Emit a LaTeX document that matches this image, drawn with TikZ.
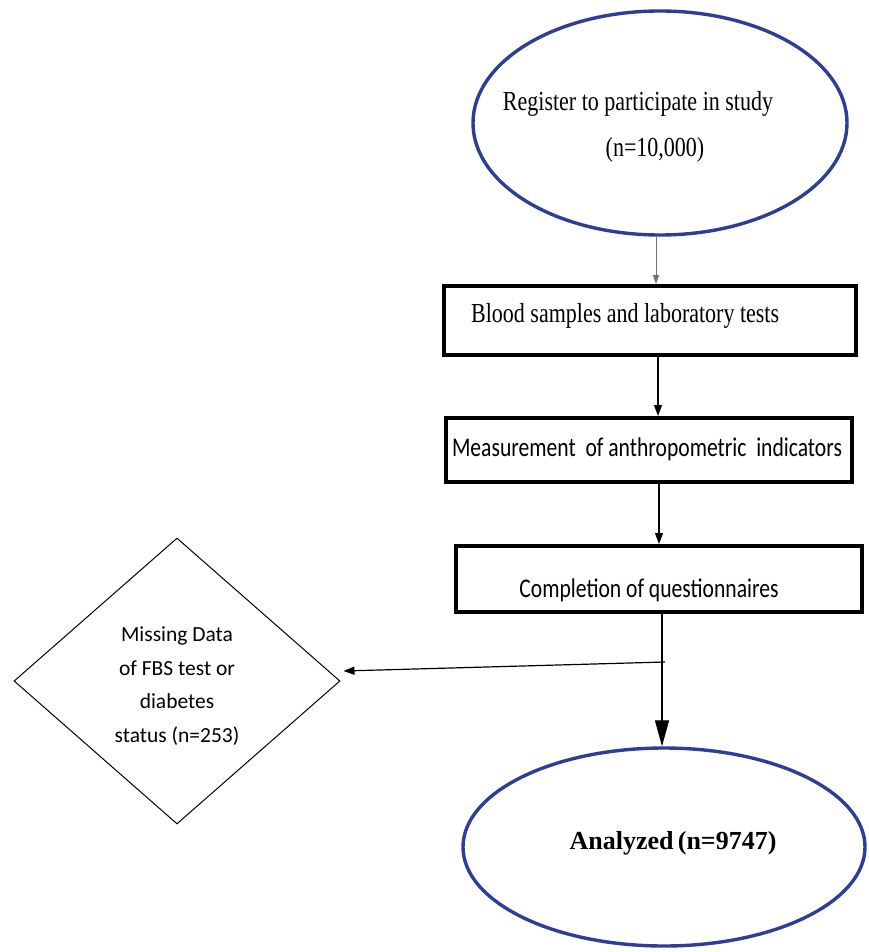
\documentclass[tikz,border=0pt]{standalone}
\usepackage{fontspec}
\setmainfont{Liberation Serif}
\newfontfamily\serifN[FakeStretch=0.8]{Liberation Serif}
\newfontfamily\sansN[FakeStretch=0.8]{Carlito}
\newfontfamily\sansR{Carlito}
\usetikzlibrary{shapes.geometric,arrows.meta}
\definecolor{ellblue}{RGB}{46,62,150}
\begin{document}
\begin{tikzpicture}[x=1pt,y=-1pt,
  ell/.style={draw=ellblue,line width=3.4pt,ellipse,inner sep=0pt},
  stepbox/.style={draw=black,line width=4pt,rectangle,inner sep=0pt},
  txt/.style={inner sep=0pt,text=black},
  serifbig/.style={font=\serifN\fontsize{27.5}{30}\selectfont},
  sansbig/.style={font=\sansN\fontsize{27}{30}\selectfont},
  conn/.style={line width=1.2pt,-{Triangle[length=11pt,width=8pt]}},
  thinconn/.style={draw=black!55,line width=0.8pt,-{Triangle[length=9pt,width=6pt]}},
  bigconn/.style={line width=1.2pt,-{Triangle[length=26pt,width=14pt]}}]
\useasboundingbox (0,0) rectangle (868,952);
\fill[white] (0,0) rectangle (868,952);

% top ellipse
\node[ell,minimum width=374pt,minimum height=224pt] (e1) at (660,123) {};
\node[txt,serifbig] (t1) at (638,104) {Register to participate in study};
\node[txt,serifbig] (t2) at (655,150) {(n=10,000)};

% boxes
\node[stepbox,minimum width=412pt,minimum height=69pt] (b1) at (650,320.5) {};
\node[txt,serifbig,anchor=west] (tb1) at (471,316) {Blood samples and laboratory tests};

\node[stepbox,minimum width=406pt,minimum height=64pt] (b2) at (649,450) {};
\node[txt,sansbig] (tb2) at (647,449) {Measurement\ \ of anthropometric\ \ indicators};

\node[stepbox,minimum width=406pt,minimum height=66pt] (b3) at (659,579) {};
\node[txt,sansbig] (tb3) at (649,590) {Completion of questionnaires};

% diamond
\node[draw=black,line width=1pt,diamond,inner sep=0pt,minimum width=326pt,minimum height=286pt] (d) at (177,681) {};
\node[txt,font=\sansR\fontsize{21.5}{33.5}\selectfont,align=center] (td) at (177,686)
  {Missing Data\\of FBS test or\\diabetes\\status (n=253)};

% bottom ellipse
\node[ell,minimum width=402pt,minimum height=198pt] (e2) at (664,847) {};
\node[txt,font=\fontsize{26}{30}\selectfont\bfseries] (t3) at (673,843) {Analyzed\,(n=9747)};

% connectors
\draw[thinconn] ([xshift=-4pt]e1.south) -- ([xshift=-4pt]e1.south |- b1.north);
\draw[conn] ([xshift=8pt]b1.south) -- ([xshift=8pt]b1.south |- b2.north);
\draw[conn] ([xshift=10pt]b2.south) -- ([xshift=10pt]b2.south |- b3.north);
\draw[bigconn] ([xshift=3pt]b3.south) -- ([xshift=3pt]b3.south |- e2.north);
\coordinate (j) at (665,662);
\draw[conn] (j) -- ([xshift=3pt,yshift=10pt]d.east);
\end{tikzpicture}
\end{document}
